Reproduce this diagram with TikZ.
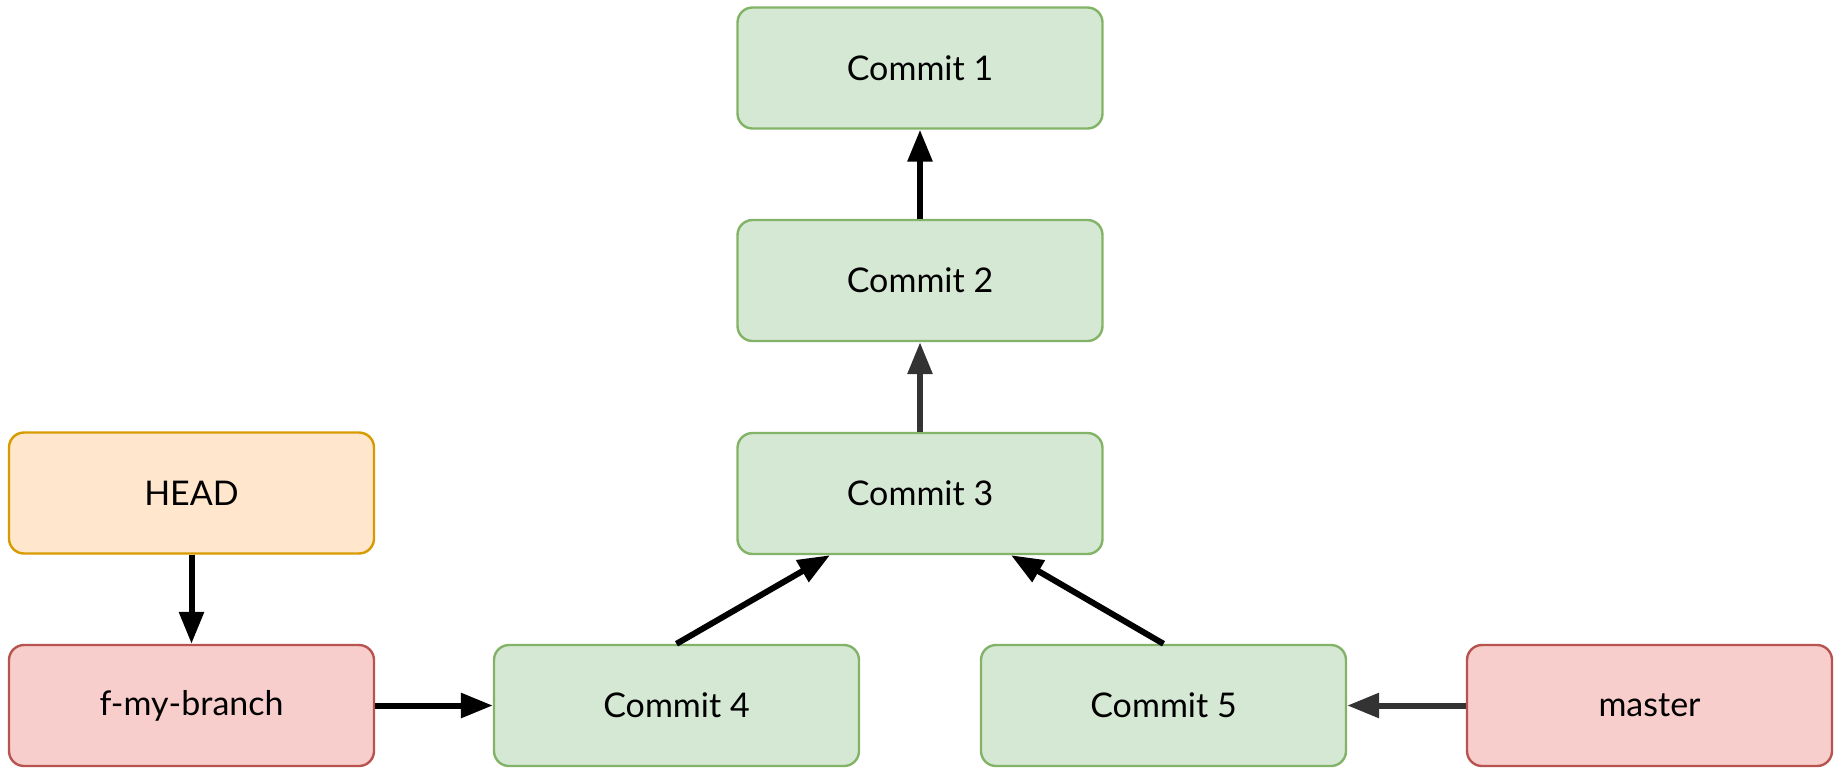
\documentclass[tikz,border=0pt]{standalone}
\usepackage{fontspec}
\setmainfont{Lato}
\usetikzlibrary{arrows.meta,calc}
\definecolor{gfill}{HTML}{D5E8D4}
\definecolor{gdraw}{HTML}{82B366}
\definecolor{ofill}{HTML}{FFE6CC}
\definecolor{odraw}{HTML}{D79B00}
\definecolor{rfill}{HTML}{F8CECC}
\definecolor{rdraw}{HTML}{B85450}
\definecolor{dgray}{HTML}{333333}
\begin{document}
\begin{tikzpicture}[x=0.5pt,y=-0.5pt,
  box/.style={rectangle,rounded corners=7.5pt,line width=1.2pt,minimum width=182.5pt,minimum height=60.5pt,inner sep=0pt,font=\fontsize{17}{21}\selectfont},
  commitbox/.style={box,draw=gdraw,fill=gfill},
  headbox/.style={box,draw=odraw,fill=ofill},
  branchbox/.style={box,draw=rdraw,fill=rfill},
  conn/.style={line width=3pt,-{Triangle[length=16pt,width=12pt]}},
]
\useasboundingbox (0,0) rectangle (1841,767);
\node[commitbox] (c1) at (920,68) {Commit 1};
\node[commitbox] (c2) at (920,280.5) {Commit 2};
\node[commitbox] (c3) at (920,493.5) {Commit 3};
\node[headbox] (head) at (191.5,493) {HEAD};
\node[branchbox] (fb) at (191.5,705.5) {f-my-branch};
\node[commitbox] (c4) at (676.5,705.5) {Commit 4};
\node[commitbox] (c5) at (1163.5,705.5) {Commit 5};
\node[branchbox] (master) at (1649.5,705.5) {master};
\draw[conn,black] (c2) -- (c1);
\draw[conn,dgray] (c3) -- (c2);
\draw[conn,black] (c4.north) -- ([xshift=-45pt]c3.south);
\draw[conn,black] (c5.north) -- ([xshift=45.5pt]c3.south);
\draw[conn,black] (head) -- (fb);
\draw[conn,black] (fb) -- (c4);
\draw[conn,dgray] (master) -- (c5);
\end{tikzpicture}
\end{document}
